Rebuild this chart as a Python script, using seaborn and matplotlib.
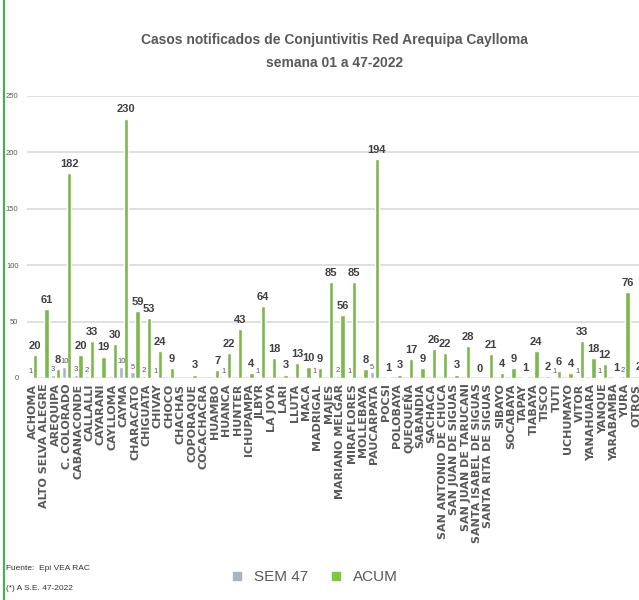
import numpy as np
import pandas as pd
import matplotlib
matplotlib.use("Agg")
import matplotlib.pyplot as plt
from matplotlib.lines import Line2D
import seaborn as sns

# ========================
# Data
# ========================
distritos = [
    "ACHOMA", "ALTO SELVA ALEGRE", "AREQUIPA", "C. COLORADO", "CABANACONDE",
    "CALLALLI", "CAYARANI", "CAYLLOMA", "CAYMA", "CHARACATO", "CHIGUATA",
    "CHIVAY", "CHOCO", "CHACHAS", "COPORAQUE", "COCACHACRA", "HUAMBO",
    "HUANCA", "HUNTER", "ICHUPAMPA", "JLBYR", "LA JOYA", "LARI", "LLUTA",
    "MACA", "MADRIGAL", "MAJES", "MARIANO MELGAR", "MIRAFLORES", "MOLLEBAYA",
    "PAUCARPATA", "POCSI", "POLOBAYA", "QUEQUEÑA", "SABANDIA", "SACHACA",
    "SAN ANTONIO DE CHUCA", "SAN JUAN DE SIGUAS", "SAN JUAN DE TARUCANI",
    "SANTA ISABEL DE SIGUAS", "SANTA RITA DE SIGUAS", "SIBAYO", "SOCABAYA",
    "TAPAY", "TIABAYA", "TISCO", "TUTI", "UCHUMAYO", "VITOR", "YANAHUARA",
    "YANQUE", "YARABAMBA", "YURA", "OTROS",
]

sem47 = [
    1, 0, 3, 10, 3, 2, 0, 0, 10, 5, 2, 1, 0, 0, 0, 0, 0,
    1, 0, 0, 1, 0, 0, 0, 0, 1, 0, 2, 1, 0, 5, 0, 0, 0, 0, 0,
    0, 0, 0, 0, 0, 0, 0, 0, 0, 0, 1, 0, 1, 0, 1, 0, 2, 0,
]

acum = [
    20, 61, 8, 182, 20, 33, 19, 30, 230, 59, 53, 24, 9, np.nan, 3, np.nan, 7,
    22, 43, 4, 64, 18, 3, 13, 10, 9, 85, 56, 85, 8, 194, 1, 3, 17, 9, 26,
    22, 3, 28, 0, 21, 4, 9, 1, 24, 2, 6, 4, 33, 18, 12, 1, 76, 2,
]

series = ["SEM 47", "ACUM"]

GRAY = "#A8B4C6"
GREEN = "#7BC93E"
TXT = "#595959"

df = pd.DataFrame({
    "distrito": distritos * 2,
    "casos": sem47 + acum,
    "serie": [series[0]] * len(distritos) + [series[1]] * len(distritos),
})
# districts without data get an empty (zero height) bar
df["casos"] = df["casos"].fillna(0)

sns.set_theme(style="white")
plt.rcParams["font.family"] = ["Liberation Sans", "DejaVu Sans"]

fig = plt.figure(figsize=(6.39, 6.0), dpi=100)
ax = fig.add_axes([0.042, 0.37, 0.963, 0.47])

sns.barplot(data=df, x="distrito", y="casos", hue="serie",
            palette={"SEM 47": GRAY, "ACUM": GREEN},
            width=0.85, gap=0.1, ax=ax, legend=True, errorbar=None)

ax.set_ylim(0, 250)
ax.set_xlim(-0.5, 53.5)
ax.set_yticks(range(0, 251, 50))
ax.yaxis.grid(True, color="#D9D9D9", linewidth=1.2)
ax.set_axisbelow(True)
for s in ax.spines.values():
    s.set_visible(False)
ax.set_xlabel("")
ax.set_ylabel("")
ax.tick_params(axis="y", labelsize=5.5, labelcolor=TXT, length=0, pad=6)
ax.tick_params(axis="x", length=0, pad=4)
ax.set_xticks(range(len(distritos)))
ax.set_xticklabels(distritos, rotation=90, fontsize=8, fontweight="bold",
                   color=TXT, family="DejaVu Sans", va="top", ha="center")

# data labels
sem_labels = [str(v) if v > 0 else "" for v in sem47]
acum_labels = ["" if np.isnan(v) else str(int(v)) for v in acum]
ax.bar_label(ax.containers[0], labels=sem_labels, padding=1,
             fontsize=5.5, color=TXT)
ax.bar_label(ax.containers[1], labels=acum_labels, padding=3,
             fontsize=8, fontweight="bold", color="#404040")

# legend at bottom
handles = [Line2D([], [], marker="s", linestyle="", markersize=6,
                  markerfacecolor=c, markeredgecolor=c) for c in (GRAY, GREEN)]
ax.legend(handles, series, loc="center", bbox_to_anchor=(0.485, 0.038),
          bbox_transform=fig.transFigure, ncol=2, frameon=False,
          fontsize=11, handletextpad=0.1, columnspacing=0.8,
          labelcolor=TXT)

fig.text(0.524, 0.914,
         "Casos notificados de Conjuntivitis Red Arequipa Caylloma\nsemana 01 a 47-2022",
         ha="center", va="center", fontsize=10, fontweight="bold",
         color=TXT, linespacing=1.8)

fig.text(0.01, 0.053, "Fuente:  Epi VEA RAC", fontsize=6, color="#333333",
         va="center")
fig.text(0.01, 0.02, "(*) A S.E. 47-2022", fontsize=6, color="#333333",
         va="center")

# green frame line on the left edge
fig.add_artist(Line2D([0.007, 0.007], [0, 1], transform=fig.transFigure,
                      color="#3DB54A", linewidth=1.5))

fig.savefig("out.png", dpi=100)
